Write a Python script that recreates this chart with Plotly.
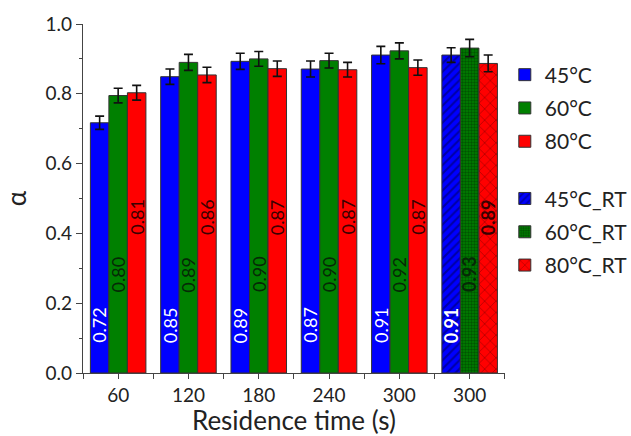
import plotly.graph_objects as go

# ---- data ----
tick_labels = ["60", "120", "180", "240", "300", "300"]
x_main = [0, 1, 2, 3, 4]
x_rt = [5]

val_45 = [0.717, 0.849, 0.893, 0.871, 0.911]
val_60 = [0.795, 0.890, 0.900, 0.895, 0.923]
val_80 = [0.803, 0.854, 0.872, 0.869, 0.875]
err_45 = [0.019, 0.022, 0.023, 0.023, 0.025]
err_60 = [0.021, 0.023, 0.021, 0.021, 0.023]
err_80 = [0.021, 0.022, 0.022, 0.021, 0.022]

val_45_rt = [0.911]
val_60_rt = [0.931]
val_80_rt = [0.887]
err_45_rt = [0.021]
err_60_rt = [0.025]
err_80_rt = [0.024]

lab_45 = ["0.72", "0.85", "0.89", "0.87", "0.91"]
lab_60 = ["0.80", "0.89", "0.90", "0.90", "0.92"]
lab_80 = ["0.81", "0.86", "0.87", "0.87", "0.87"]
lab_45_rt = ["0.91"]
lab_60_rt = ["0.93"]
lab_80_rt = ["0.89"]

# ---- style ----
FONT = "Lato"
TXT = "#222222"
BLUE, GREEN, RED = "#0000FF", "#008000", "#FF0000"
BARGAP = 0.21
BAR_W = (1 - BARGAP) / 3
LABEL_Y = {"45": 0.137, "60": 0.283, "80": 0.447}
LABEL_COL = {"45": "white", "60": "#062806", "80": "#3a0000"}
OFFS = {"45": -BAR_W, "60": 0.0, "80": BAR_W}

fig = go.Figure()

def add_bar(name, x, y, err, color, group, legend, pattern=None):
    marker = dict(color=color, line=dict(color="#333333", width=1))
    if pattern:
        marker["pattern"] = pattern
    fig.add_trace(go.Bar(
        name=name, x=x, y=y, offsetgroup=group, legend=legend,
        legendgroup=name,
        marker=marker,
        error_y=dict(type="data", array=err, color="#111111",
                     thickness=1.6, width=4.5),
    ))

add_bar("45°C", x_main, val_45, err_45, BLUE, "45", "legend")
add_bar("60°C", x_main, val_60, err_60, GREEN, "60", "legend")
add_bar("80°C", x_main, val_80, err_80, RED, "80", "legend")
add_bar("45°C_RT", x_rt, val_45_rt, err_45_rt, BLUE, "45", "legend2",
        dict(shape="/", fgcolor="#00004a", size=6, solidity=0.35))
add_bar("60°C_RT", x_rt, val_60_rt, err_60_rt, GREEN, "60", "legend2",
        dict(shape=".", fgcolor="#002800", size=3, solidity=0.5))
add_bar("80°C_RT", x_rt, val_80_rt, err_80_rt, RED, "80", "legend2",
        dict(shape="x", fgcolor="#5a0000", size=8, solidity=0.18))

def add_labels(x, labels, key, bold=False):
    for xi, t in zip(x, labels):
        fig.add_annotation(
            x=xi + OFFS[key], y=LABEL_Y[key], xref="x", yref="y",
            text=f"<b>{t}</b>" if bold else t, textangle=-90, showarrow=False,
            font=dict(family=FONT, size=18, color=LABEL_COL[key]),
        )

add_labels(x_main, lab_45, "45")
add_labels(x_main, lab_60, "60")
add_labels(x_main, lab_80, "80")
add_labels(x_rt, lab_45_rt, "45", bold=True)
add_labels(x_rt, lab_60_rt, "60", bold=True)
add_labels(x_rt, lab_80_rt, "80", bold=True)

axis_col = "#444444"
legend_common = dict(xref="container", yref="container", x=0.80,
                     xanchor="left", yanchor="top", traceorder="grouped",
                     font=dict(size=21, family=FONT, color=TXT),
                     bgcolor="rgba(0,0,0,0)", itemwidth=30, tracegroupgap=3)
fig.update_layout(
    width=631, height=436,
    margin=dict(l=83, r=115, t=24, b=63),
    paper_bgcolor="white", plot_bgcolor="white",
    barmode="group", bargap=BARGAP, bargroupgap=0,
    font=dict(family=FONT, color=TXT),
    xaxis=dict(
        range=[-0.5, 5.5], tickmode="array", tickvals=[0, 1, 2, 3, 4, 5],
        ticktext=tick_labels, showline=True, linecolor=axis_col, linewidth=1.2,
        ticks="outside", ticklen=5, tickcolor=axis_col, tickwidth=1.2,
        minor=dict(tickmode="array", tickvals=[-0.5, 0.5, 1.5, 2.5, 3.5, 4.5, 5.5],
                   ticks="outside", ticklen=5, tickcolor=axis_col, tickwidth=1.2),
        tickfont=dict(size=19, family=FONT, color=TXT),
        title=dict(text="Residence time (s)", font=dict(size=26, family=FONT, color=TXT),
                   standoff=5),
        automargin=False,
        showgrid=False, zeroline=False,
    ),
    yaxis=dict(
        range=[0, 1.0], tickmode="linear", tick0=0, dtick=0.2, tickformat=".1f",
        showline=True, linecolor=axis_col, linewidth=1.2,
        ticks="outside", ticklen=6, tickcolor=axis_col, tickwidth=1.2,
        minor=dict(dtick=0.1, ticks="outside", ticklen=3, tickcolor=axis_col, tickwidth=1.2),
        tickfont=dict(size=19, family=FONT, color=TXT),
        title=dict(text="α", font=dict(size=26, family=FONT, color=TXT), standoff=16),
        automargin=False,
        showgrid=False, zeroline=False,
    ),
    legend=dict(y=0.875, **legend_common),
    legend2=dict(y=0.591, **legend_common),
)

fig.write_html("out.html", config={"displayModeBar": False},
               post_script="document.body.style.margin='0';")
